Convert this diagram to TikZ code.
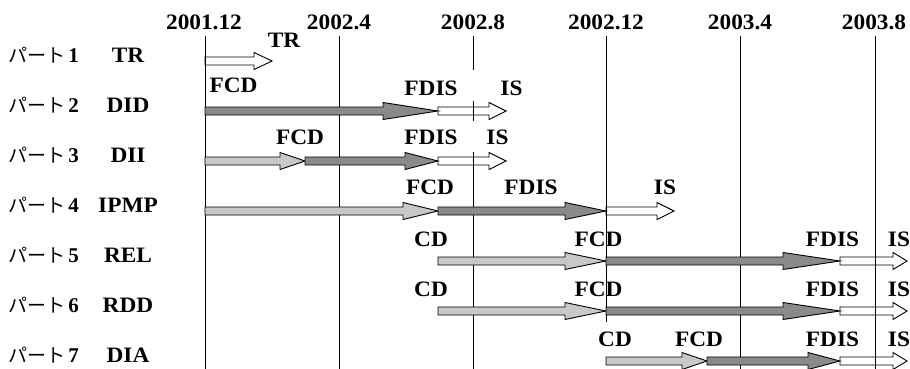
\documentclass[tikz,border=0pt]{standalone}
\usepackage{fontspec}
\setmainfont{Liberation Serif}
\newfontfamily\lblfont[FakeStretch=1.06]{Liberation Serif}
\newfontfamily\jpfont{Noto Sans CJK JP}
\definecolor{lightfill}{RGB}{200,200,200}
\definecolor{darkfill}{RGB}{138,138,138}
\newcommand\blkarrow[5]{%
  \draw[#1] (#2,#5-4) -- (#3,#5-4) -- (#3,#5-8.5) -- (#4,#5) -- (#3,#5+8.5) -- (#3,#5+4) -- (#2,#5+4) -- cycle;}
\begin{document}
\begin{tikzpicture}[x=1pt,y=-1pt,
  vline/.style={draw=black,line width=1pt},
  lightarr/.style={draw=black,line width=0.9pt,fill=lightfill},
  darkarr/.style={draw=black,line width=0.9pt,fill=darkfill},
  whitearr/.style={draw=black,line width=0.9pt},
  lbl/.style={inner sep=0pt,font=\lblfont\fontsize{22}{22}\selectfont\bfseries},
  yearlbl/.style={lbl},
  partlbl/.style={inner sep=0pt,anchor=west,font=\fontsize{19}{19}\selectfont}]
\useasboundingbox (0,0) rectangle (910,369);
% vertical time lines
\draw[vline] (205,36) -- (205,369);
\draw[vline] (339,36) -- (339,369);
\draw[vline] (473,36) -- (473,70);
\draw[vline] (473,101) -- (473,121);
\draw[vline] (473,152) -- (473,369);
\draw[vline] (606,36) -- (606,322);
\draw[vline] (740,36) -- (740,369);
\draw[vline] (875,36) -- (875,369);
% year labels
\node[yearlbl] (y1) at (204,22) {2001.12};
\node[yearlbl] (y2) at (339,22) {2002.4};
\node[yearlbl] (y3) at (473,22) {2002.8};
\node[yearlbl] (y4) at (606,22) {2002.12};
\node[yearlbl] (y5) at (740,22) {2003.4};
\node[yearlbl] (y6) at (874,22) {2003.8};
% part labels
\foreach \k/\nm in {1/TR,2/DID,3/DII,4/IPMP,5/REL,6/RDD,7/DIA}{
  \node[partlbl] (p\k) at (8,{55+50*(\k-1)}) {{\jpfont パート}\,{\fontsize{21}{21}\selectfont\bfseries\k}};
  \node[lbl] (n\k) at (128,{55+50*(\k-1)}) {\nm};
}
% row 1
\blkarrow{whitearr}{205}{254}{272}{61}
\node[lbl] (r1tr) at (284,40) {TR};
% row 2
\blkarrow{darkarr}{205}{383}{438}{111}
\blkarrow{whitearr}{438}{489}{506}{111}
\node[lbl] (r2fcd) at (233.5,85) {FCD};
\node[lbl] (r2fdis) at (431,88) {FDIS};
\node[lbl] (r2is) at (511.5,88) {IS};
% row 3
\blkarrow{lightarr}{205}{280}{305}{161}
\blkarrow{darkarr}{305}{405}{438}{161}
\blkarrow{whitearr}{438}{489}{506}{161}
\node[lbl] (r3fcd) at (300,137) {FCD};
\node[lbl] (r3fdis) at (431,137) {FDIS};
\node[lbl] (r3is) at (497.5,137) {IS};
% row 4
\blkarrow{lightarr}{205}{403}{438}{211}
\blkarrow{darkarr}{438}{565}{606}{211}
\blkarrow{whitearr}{606}{657}{674}{211}
\node[lbl] (r4fcd) at (430,187) {FCD};
\node[lbl] (r4fdis) at (531,187) {FDIS};
\node[lbl] (r4is) at (665,187) {IS};
% rows 5 and 6
\foreach \r/\yy in {5/261,6/311}{
  \blkarrow{lightarr}{438}{565}{606}{\yy}
  \blkarrow{darkarr}{606}{783}{840}{\yy}
  \blkarrow{whitearr}{840}{893}{907}{\yy}
  \node[lbl] (r\r cd) at (431,\yy-22) {CD};
  \node[lbl] (r\r fcd) at (598.5,\yy-22) {FCD};
  \node[lbl] (r\r fdis) at (832.5,\yy-22) {FDIS};
  \node[lbl] (r\r is) at (899,\yy-22) {IS};
}
% row 7
\blkarrow{lightarr}{606}{682}{707}{361}
\blkarrow{darkarr}{707}{808}{840}{361}
\blkarrow{whitearr}{840}{893}{907}{361}
\node[lbl] (r7cd) at (615,339) {CD};
\node[lbl] (r7fcd) at (699,339) {FCD};
\node[lbl] (r7fdis) at (832.5,339) {FDIS};
\node[lbl] (r7is) at (899,339) {IS};
\end{tikzpicture}
\end{document}
